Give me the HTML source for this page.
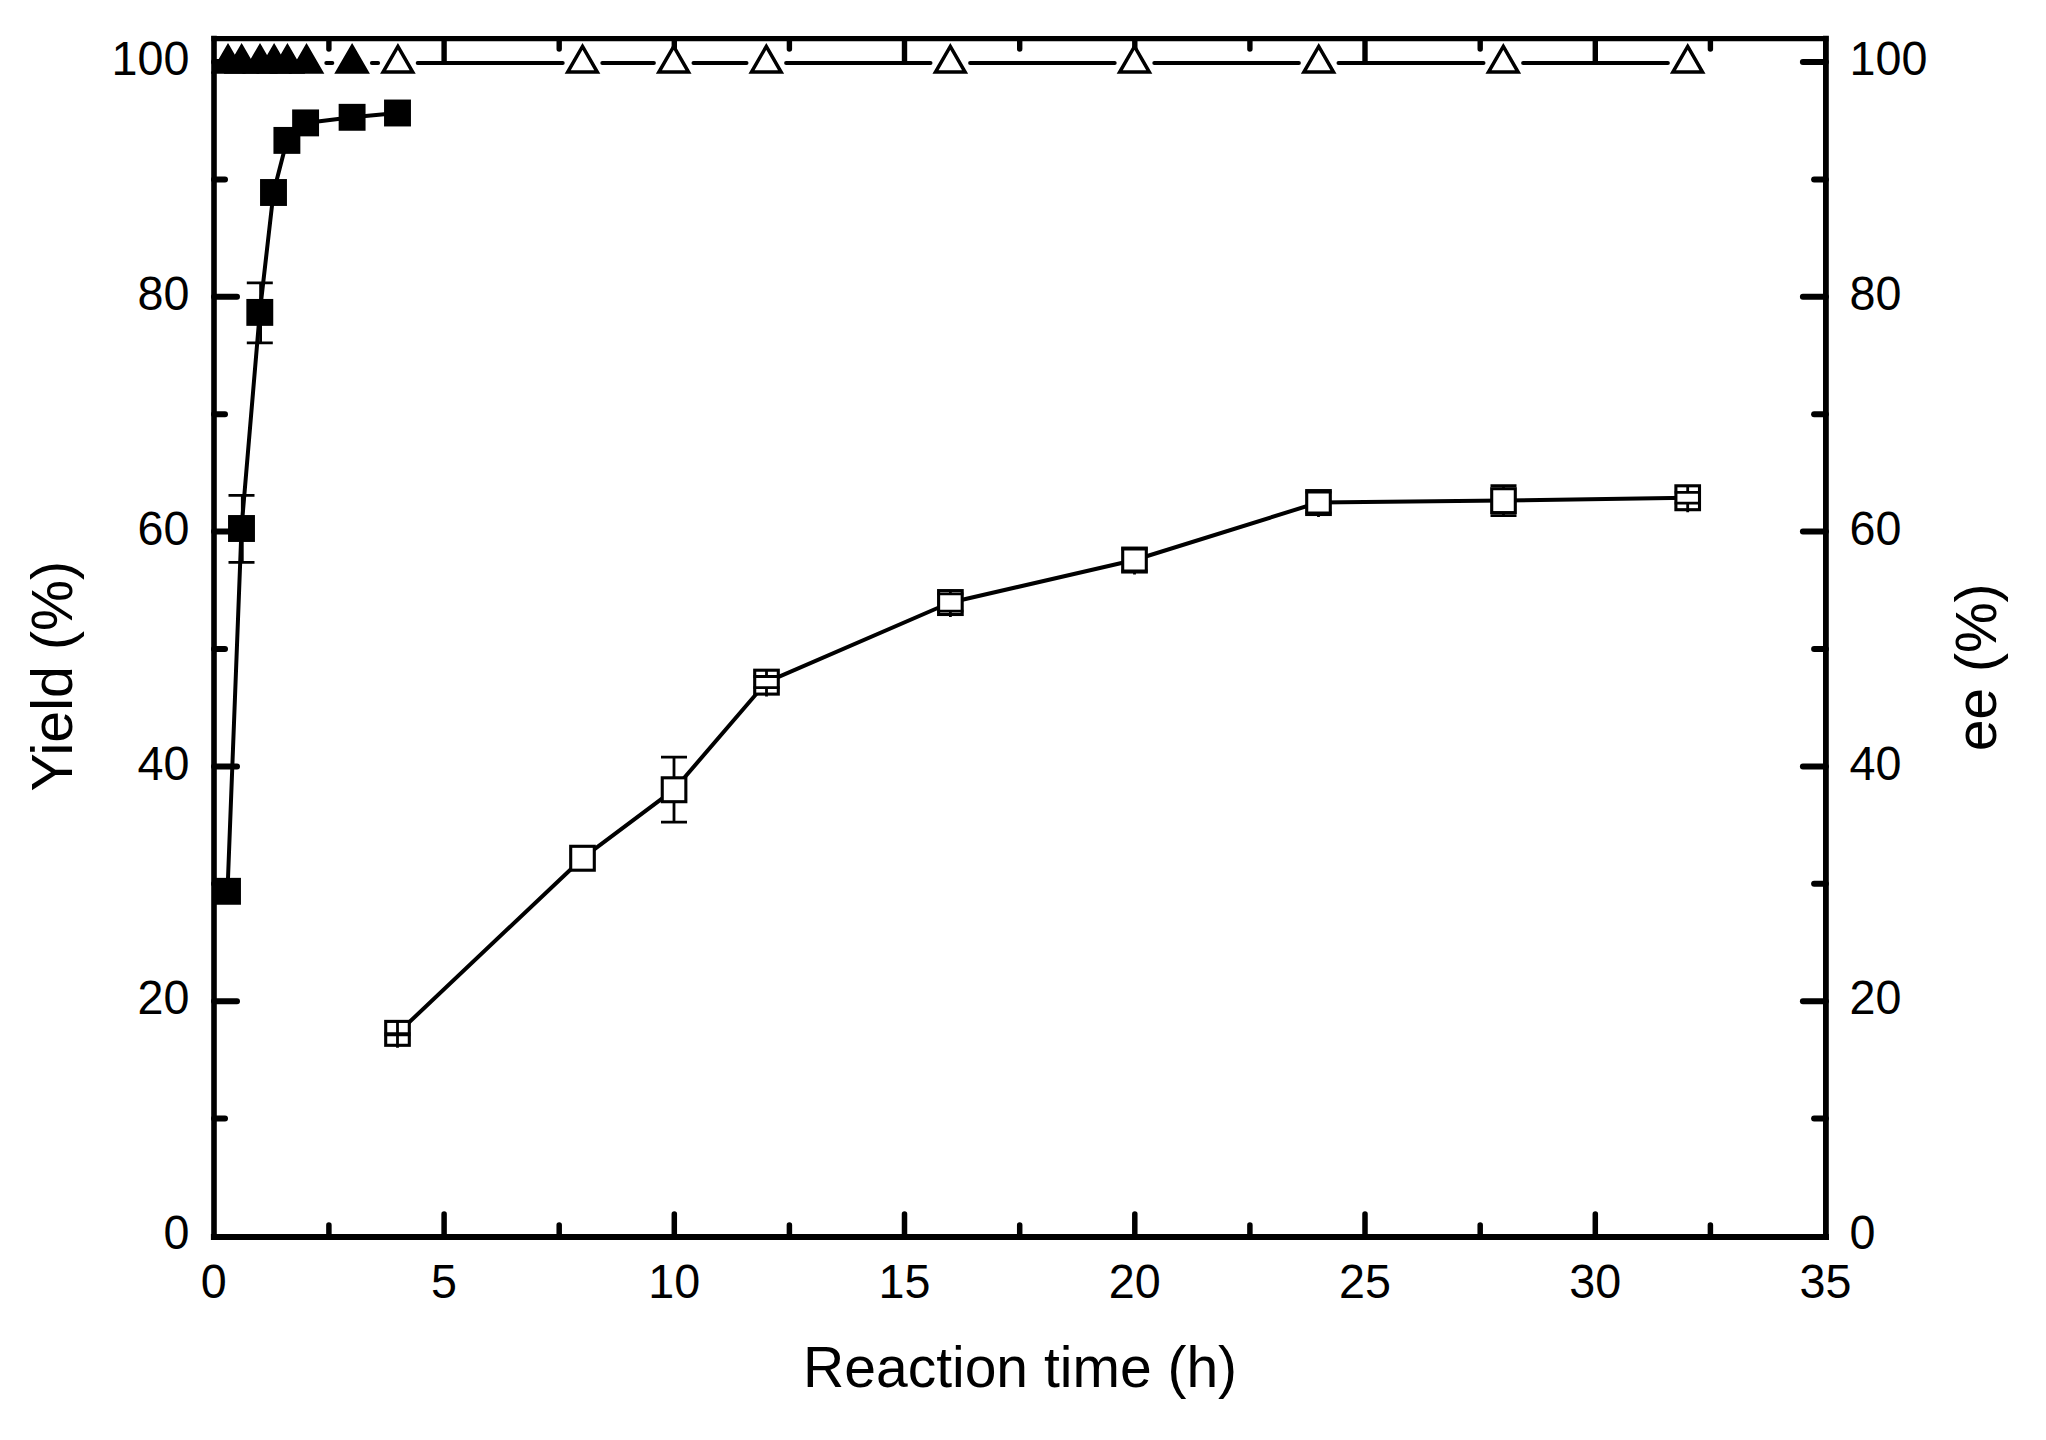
<!DOCTYPE html>
<html lang="en"><head><meta charset="utf-8"><title>Yield and ee versus reaction time</title>
<style>html,body{margin:0;padding:0;background:#fff;}svg{display:block;}text{font-family:"Liberation Sans",Arial,sans-serif;fill:#000;}.tk{font-size:46.7px;}.ttl{font-size:57px;}</style></head><body>
<svg width="2046" height="1440" viewBox="0 0 2046 1440">
<rect x="0" y="0" width="2046" height="1440" fill="#fff"/>
<g stroke="#000" stroke-linecap="round" fill="none">
<line x1="214.0" y1="1118.6" x2="225.0" y2="1118.6" stroke-width="6"/>
<line x1="1825.9" y1="1118.6" x2="1814.1000000000001" y2="1118.6" stroke-width="6"/>
<line x1="214.0" y1="1001.2" x2="237.0" y2="1001.2" stroke-width="6"/>
<line x1="1825.9" y1="1001.2" x2="1802.9" y2="1001.2" stroke-width="6"/>
<line x1="214.0" y1="883.8" x2="225.0" y2="883.8" stroke-width="6"/>
<line x1="1825.9" y1="883.8" x2="1814.1000000000001" y2="883.8" stroke-width="6"/>
<line x1="214.0" y1="766.4" x2="237.0" y2="766.4" stroke-width="6"/>
<line x1="1825.9" y1="766.4" x2="1802.9" y2="766.4" stroke-width="6"/>
<line x1="214.0" y1="649.0" x2="225.0" y2="649.0" stroke-width="6"/>
<line x1="1825.9" y1="649.0" x2="1814.1000000000001" y2="649.0" stroke-width="6"/>
<line x1="214.0" y1="531.6" x2="237.0" y2="531.6" stroke-width="6"/>
<line x1="1825.9" y1="531.6" x2="1802.9" y2="531.6" stroke-width="6"/>
<line x1="214.0" y1="414.2" x2="225.0" y2="414.2" stroke-width="6"/>
<line x1="1825.9" y1="414.2" x2="1814.1000000000001" y2="414.2" stroke-width="6"/>
<line x1="214.0" y1="296.8" x2="237.0" y2="296.8" stroke-width="6"/>
<line x1="1825.9" y1="296.8" x2="1802.9" y2="296.8" stroke-width="6"/>
<line x1="214.0" y1="179.4" x2="225.0" y2="179.4" stroke-width="6"/>
<line x1="1825.9" y1="179.4" x2="1814.1000000000001" y2="179.4" stroke-width="6"/>
<line x1="214.0" y1="62.0" x2="237.0" y2="62.0" stroke-width="6"/>
<line x1="1825.9" y1="62.0" x2="1802.9" y2="62.0" stroke-width="6"/>
<line x1="328.9" y1="1237.0" x2="328.9" y2="1225.0" stroke-width="5.5"/>
<line x1="328.9" y1="38.6" x2="328.9" y2="49.1" stroke-width="5.4"/>
<line x1="444.1" y1="1237.0" x2="444.1" y2="1214.0" stroke-width="5.5"/>
<line x1="444.1" y1="38.6" x2="444.1" y2="61.1" stroke-width="5.4"/>
<line x1="559.2" y1="1237.0" x2="559.2" y2="1225.0" stroke-width="5.5"/>
<line x1="559.2" y1="38.6" x2="559.2" y2="49.1" stroke-width="5.4"/>
<line x1="674.3" y1="1237.0" x2="674.3" y2="1214.0" stroke-width="5.5"/>
<line x1="674.3" y1="38.6" x2="674.3" y2="61.1" stroke-width="5.4"/>
<line x1="789.4" y1="1237.0" x2="789.4" y2="1225.0" stroke-width="5.5"/>
<line x1="789.4" y1="38.6" x2="789.4" y2="49.1" stroke-width="5.4"/>
<line x1="904.5" y1="1237.0" x2="904.5" y2="1214.0" stroke-width="5.5"/>
<line x1="904.5" y1="38.6" x2="904.5" y2="61.1" stroke-width="5.4"/>
<line x1="1019.7" y1="1237.0" x2="1019.7" y2="1225.0" stroke-width="5.5"/>
<line x1="1019.7" y1="38.6" x2="1019.7" y2="49.1" stroke-width="5.4"/>
<line x1="1134.8" y1="1237.0" x2="1134.8" y2="1214.0" stroke-width="5.5"/>
<line x1="1134.8" y1="38.6" x2="1134.8" y2="61.1" stroke-width="5.4"/>
<line x1="1249.9" y1="1237.0" x2="1249.9" y2="1225.0" stroke-width="5.5"/>
<line x1="1249.9" y1="38.6" x2="1249.9" y2="49.1" stroke-width="5.4"/>
<line x1="1365.0" y1="1237.0" x2="1365.0" y2="1214.0" stroke-width="5.5"/>
<line x1="1365.0" y1="38.6" x2="1365.0" y2="61.1" stroke-width="5.4"/>
<line x1="1480.2" y1="1237.0" x2="1480.2" y2="1225.0" stroke-width="5.5"/>
<line x1="1480.2" y1="38.6" x2="1480.2" y2="49.1" stroke-width="5.4"/>
<line x1="1595.3" y1="1237.0" x2="1595.3" y2="1214.0" stroke-width="5.5"/>
<line x1="1595.3" y1="38.6" x2="1595.3" y2="61.1" stroke-width="5.4"/>
<line x1="1710.4" y1="1237.0" x2="1710.4" y2="1225.0" stroke-width="5.5"/>
<line x1="1710.4" y1="38.6" x2="1710.4" y2="49.1" stroke-width="5.4"/>
</g>
<g stroke="#000" stroke-linecap="square" fill="none">
<line x1="214.0" y1="38.6" x2="214.0" y2="1237.0" stroke-width="5.6"/>
<line x1="1825.9" y1="38.6" x2="1825.9" y2="1237.0" stroke-width="5.8"/>
<line x1="214.0" y1="38.6" x2="1825.9" y2="38.6" stroke-width="5.2"/>
<line x1="214.0" y1="1237.0" x2="1825.9" y2="1237.0" stroke-width="6.2"/>
</g>
<g class="tk">
<text transform="translate(189.4 1249.2) scale(1 1.045)" text-anchor="end">0</text>
<text transform="translate(1849.5 1249.2) scale(1 1.045)" text-anchor="start">0</text>
<text transform="translate(189.4 1014.4) scale(1 1.045)" text-anchor="end">20</text>
<text transform="translate(1849.5 1014.4) scale(1 1.045)" text-anchor="start">20</text>
<text transform="translate(189.4 779.6) scale(1 1.045)" text-anchor="end">40</text>
<text transform="translate(1849.5 779.6) scale(1 1.045)" text-anchor="start">40</text>
<text transform="translate(189.4 544.8) scale(1 1.045)" text-anchor="end">60</text>
<text transform="translate(1849.5 544.8) scale(1 1.045)" text-anchor="start">60</text>
<text transform="translate(189.4 310.0) scale(1 1.045)" text-anchor="end">80</text>
<text transform="translate(1849.5 310.0) scale(1 1.045)" text-anchor="start">80</text>
<text transform="translate(189.4 75.2) scale(1 1.045)" text-anchor="end">100</text>
<text transform="translate(1849.5 75.2) scale(1 1.045)" text-anchor="start">100</text>
<text transform="translate(213.8 1297.9) scale(1 1.045)" text-anchor="middle">0</text>
<text transform="translate(444.1 1297.9) scale(1 1.045)" text-anchor="middle">5</text>
<text transform="translate(674.3 1297.9) scale(1 1.045)" text-anchor="middle">10</text>
<text transform="translate(904.5 1297.9) scale(1 1.045)" text-anchor="middle">15</text>
<text transform="translate(1134.8 1297.9) scale(1 1.045)" text-anchor="middle">20</text>
<text transform="translate(1365.0 1297.9) scale(1 1.045)" text-anchor="middle">25</text>
<text transform="translate(1595.3 1297.9) scale(1 1.045)" text-anchor="middle">30</text>
<text transform="translate(1825.5 1297.9) scale(1 1.045)" text-anchor="middle">35</text>
</g>
<g class="ttl">
<text transform="translate(72 676.2) rotate(-90)" text-anchor="middle" style="font-size:57.4px">Yield (%)</text>
<text transform="translate(1996.0 667.4) rotate(-90)" text-anchor="middle">ee (%)</text>
<text x="1020.1" y="1386.8" text-anchor="middle">Reaction time (h)</text>
</g>
<defs><clipPath id="clipdata"><rect x="211.2" y="30" width="1640" height="1215"/></clipPath></defs>
<g clip-path="url(#clipdata)">
<g stroke="#000" stroke-width="4.0" stroke-linecap="round" fill="none">
<line x1="326.3" y1="63.0" x2="332.3" y2="63.0"/>
<line x1="371.9" y1="63.0" x2="378.1" y2="63.0"/>
<line x1="417.7" y1="63.0" x2="562.7" y2="63.0"/>
<line x1="602.3" y1="63.0" x2="653.9" y2="63.0"/>
<line x1="693.5" y1="63.0" x2="746.5" y2="63.0"/>
<line x1="786.1" y1="63.0" x2="930.5" y2="63.0"/>
<line x1="970.1" y1="63.0" x2="1114.7" y2="63.0"/>
<line x1="1154.3" y1="63.0" x2="1298.9" y2="63.0"/>
<line x1="1338.5" y1="63.0" x2="1483.5" y2="63.0"/>
<line x1="1523.1" y1="63.0" x2="1667.9" y2="63.0"/>
</g>
<path d="M397.9 46.4 L412.7 72.0 L383.1 72.0 Z" fill="#fff" stroke="#000" stroke-width="3.5" stroke-linejoin="miter"/>
<path d="M582.5 46.4 L597.3 72.0 L567.7 72.0 Z" fill="#fff" stroke="#000" stroke-width="3.5" stroke-linejoin="miter"/>
<path d="M673.7 46.4 L688.5 72.0 L658.9 72.0 Z" fill="#fff" stroke="#000" stroke-width="3.5" stroke-linejoin="miter"/>
<path d="M766.3 46.4 L781.1 72.0 L751.5 72.0 Z" fill="#fff" stroke="#000" stroke-width="3.5" stroke-linejoin="miter"/>
<path d="M950.3 46.4 L965.1 72.0 L935.5 72.0 Z" fill="#fff" stroke="#000" stroke-width="3.5" stroke-linejoin="miter"/>
<path d="M1134.5 46.4 L1149.3 72.0 L1119.7 72.0 Z" fill="#fff" stroke="#000" stroke-width="3.5" stroke-linejoin="miter"/>
<path d="M1318.7 46.4 L1333.5 72.0 L1303.9 72.0 Z" fill="#fff" stroke="#000" stroke-width="3.5" stroke-linejoin="miter"/>
<path d="M1503.3 46.4 L1518.1 72.0 L1488.5 72.0 Z" fill="#fff" stroke="#000" stroke-width="3.5" stroke-linejoin="miter"/>
<path d="M1687.7 46.4 L1702.5 72.0 L1672.9 72.0 Z" fill="#fff" stroke="#000" stroke-width="3.5" stroke-linejoin="miter"/>
<path d="M228.0 46.4 L242.8 72.0 L213.2 72.0 Z" fill="#000" stroke="#000" stroke-width="3.5" stroke-linejoin="miter"/>
<path d="M241.6 46.4 L256.4 72.0 L226.8 72.0 Z" fill="#000" stroke="#000" stroke-width="3.5" stroke-linejoin="miter"/>
<path d="M260.0 46.4 L274.8 72.0 L245.2 72.0 Z" fill="#000" stroke="#000" stroke-width="3.5" stroke-linejoin="miter"/>
<path d="M274.1 46.4 L288.9 72.0 L259.3 72.0 Z" fill="#000" stroke="#000" stroke-width="3.5" stroke-linejoin="miter"/>
<path d="M287.4 46.4 L302.2 72.0 L272.6 72.0 Z" fill="#000" stroke="#000" stroke-width="3.5" stroke-linejoin="miter"/>
<path d="M306.5 46.4 L321.3 72.0 L291.7 72.0 Z" fill="#000" stroke="#000" stroke-width="3.5" stroke-linejoin="miter"/>
<path d="M352.1 46.4 L366.9 72.0 L337.3 72.0 Z" fill="#000" stroke="#000" stroke-width="3.5" stroke-linejoin="miter"/>
<polyline points="397.5,1033.3 582.5,858.2 674.0,789.7 766.5,682.1 950.4,602.5 1134.5,560.0 1318.5,502.5 1503.5,500.6 1687.7,497.7" fill="none" stroke="#000" stroke-width="4.0" stroke-linejoin="round"/>
<rect x="385.70" y="1021.40" width="23.60" height="23.90" fill="#fff" stroke="#000" stroke-width="3.1"/>
<rect x="570.70" y="846.30" width="23.60" height="23.90" fill="#fff" stroke="#000" stroke-width="3.1"/>
<rect x="662.25" y="777.80" width="23.60" height="23.90" fill="#fff" stroke="#000" stroke-width="3.1"/>
<rect x="754.70" y="670.20" width="23.60" height="23.90" fill="#fff" stroke="#000" stroke-width="3.1"/>
<rect x="938.60" y="590.60" width="23.60" height="23.90" fill="#fff" stroke="#000" stroke-width="3.1"/>
<rect x="1122.70" y="548.10" width="23.60" height="23.90" fill="#fff" stroke="#000" stroke-width="3.1"/>
<rect x="1306.70" y="490.60" width="23.60" height="23.90" fill="#fff" stroke="#000" stroke-width="3.1"/>
<rect x="1491.70" y="488.70" width="23.60" height="23.90" fill="#fff" stroke="#000" stroke-width="3.1"/>
<rect x="1675.90" y="485.80" width="23.60" height="23.90" fill="#fff" stroke="#000" stroke-width="3.1"/>
<g stroke="#000" stroke-width="2.8" fill="none">
<path d="M384.5 1033.7 H410.5 M384.5 1034.9 H410.5 M397.5 1021.0 V1033.7 M397.5 1047.8 V1034.9"/>
<path d="M661.0 757.2 H687.0 M661.0 822.2 H687.0 M674.0 777.4 V757.2 M674.0 802.0 V822.2"/>
<path d="M753.5 676.5 H779.5 M753.5 687.7 H779.5 M766.5 669.8 V676.5 M766.5 696.6 V687.7"/>
<path d="M937.4 593.8 H963.4 M937.4 611.2 H963.4 M950.4 590.2 V593.8 M950.4 617.0 V611.2"/>
<path d="M1121.5 549.0 H1147.5 M1121.5 571.0 H1147.5 M1134.5 547.7 V549.0 M1134.5 574.5 V571.0"/>
<path d="M1305.5 492.2 H1331.5 M1305.5 512.8 H1331.5 M1318.5 490.2 V492.2 M1318.5 517.0 V512.8"/>
<path d="M1490.5 485.6 H1516.5 M1490.5 515.6 H1516.5 M1503.5 488.3 V485.6 M1503.5 512.9 V515.6"/>
<path d="M1674.7 492.3 H1700.7 M1674.7 503.1 H1700.7 M1687.7 485.4 V492.3 M1687.7 512.2 V503.1"/>
</g>
<polyline points="227.5,891.3 241.5,528.5 259.8,312.4 273.5,192.5 286.9,140.4 305.6,122.9 352.1,117.3 397.5,113.0" fill="none" stroke="#000" stroke-width="4.0" stroke-linejoin="round"/>
<g stroke="#000" stroke-width="2.8" fill="none">
<path d="M228.5 495.4 H254.5 M228.5 562.4 H254.5 M242.3 495.4 V562.4"/>
<path d="M246.8 282.8 H272.8 M246.8 342.8 H272.8 M260.6 282.8 V342.8"/>
</g>
<rect x="214.05" y="877.85" width="26.90" height="26.90" fill="#000"/>
<rect x="228.05" y="515.05" width="26.90" height="26.90" fill="#000"/>
<rect x="246.35" y="298.95" width="26.90" height="26.90" fill="#000"/>
<rect x="260.05" y="179.05" width="26.90" height="26.90" fill="#000"/>
<rect x="273.45" y="126.95" width="26.90" height="26.90" fill="#000"/>
<rect x="292.15" y="109.45" width="26.90" height="26.90" fill="#000"/>
<rect x="338.65" y="103.85" width="26.90" height="26.90" fill="#000"/>
<rect x="384.05" y="99.55" width="26.90" height="26.90" fill="#000"/>
</g>
</svg></body></html>
